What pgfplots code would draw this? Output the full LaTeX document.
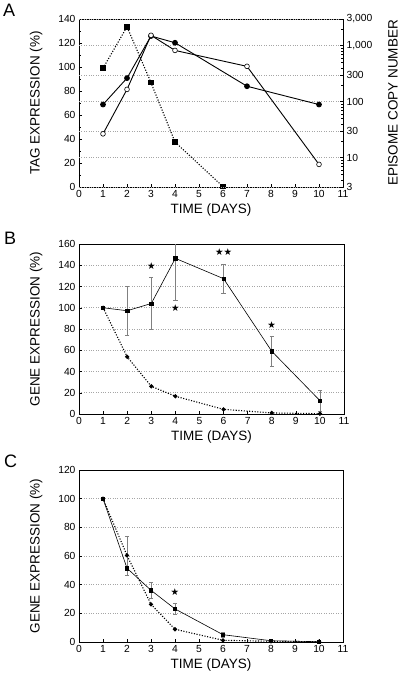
\documentclass[border=0pt]{standalone}
\usepackage{fontspec}
\setmainfont{Liberation Sans}
\newfontfamily\dejavu{DejaVu Sans}
\usepackage{pgfplots}
\pgfplotsset{compat=1.18}
\usetikzlibrary{plotmarks}
\pgfplotsset{
  panel/.style={
    scale only axis,
    xmin=0, xmax=11, xtick={0,...,11},
    tick align=inside,
    tick style={black, line width=0.5pt},
    major tick length=3pt, minor tick length=2pt,
    axis line style={line width=0.6pt},
    ticklabel style={font=\fontsize{10.3}{11}\selectfont},
    label style={font=\fontsize{13.5}{15}\selectfont},
    xlabel={TIME (DAYS)},
    xlabel style={yshift=1pt},
    /pgf/number format/assume math mode=true,
    grid style={dotted, gray!70, line width=0.6pt},
    xtick pos=bottom,
  },
  dotline/.style={black, line width=1.1pt, dash pattern=on 1.1pt off 1.6pt},
  solidline/.style={black, line width=0.9pt},
  ebar/.style={error bars/.cd, y dir=both, y explicit,
    error bar style={gray, line width=0.5pt},
    error mark options={gray, rotate=90, mark size=2.2pt, line width=0.5pt}},
  startext/.style={only marks, mark=text, text mark={\dejavu\fontsize{9.5}{9.5}\selectfont ★}},
}
\begin{document}
\begin{tikzpicture}
\useasboundingbox (0pt,0pt) rectangle (400pt,-678pt);

% ---------------- Panel A ----------------
\begin{axis}[panel, at={(79pt,-187pt)}, anchor=south west,
  width=264pt, height=168pt,
  ymin=0, ymax=140, ytick={0,20,...,140}, minor y tick num=1,
  ytick pos=left,
  ylabel={TAG EXPRESSION (\%)},
  ylabel style={yshift=9pt},
  clip=false]
\addplot[dotline, mark=square*, mark size=2.2pt, mark options={solid}]
  coordinates {(1,99) (2,133.5) (3,87) (4,37.5) (6,0.3)};
\end{axis}
\begin{axis}[panel, at={(79pt,-187pt)}, anchor=south west,
  width=264pt, height=168pt,
  hide x axis,
  axis y line*=right,
  ymode=log, ymin=3, ymax=3000,
  ytick={3,10,30,100,300,1000,3000},
  yticklabels={3,10,30,100,300,{1,000},{3,000}},
  minor ytick={4,5,6,7,8,9,20,40,50,60,70,80,90,200,400,500,600,700,800,900,2000},
  ymajorgrids,
  ylabel={EPISOME COPY NUMBER},
  ylabel style={yshift=-9pt},
  clip=false]
\addplot[solidline, mark=*, mark size=2.4pt]
  coordinates {(1,89) (2,264) (3,1490) (4,1130) (7,189) (10,89)};
\addplot[solidline, mark=*, mark size=2.4pt, mark options={fill=white, line width=0.6pt}]
  coordinates {(1,26.7) (2,166) (3,1535) (4,824) (7,428) (10,7.6)};
\end{axis}
\node[font=\fontsize{18}{20}\selectfont, anchor=north west, inner sep=0pt] at (3pt,-4pt) {A};

% ---------------- Panel B ----------------
\begin{axis}[panel, at={(79pt,-414pt)}, anchor=south west,
  width=265pt, height=170pt,
  ymin=0, ymax=160, ytick={0,20,...,160},
  ytick pos=left,
  ymajorgrids,
  ylabel={GENE EXPRESSION (\%)},
  ylabel style={yshift=9pt}]
\addplot[dotline, mark=*, mark size=1.5pt, mark options={solid}]
  coordinates {(1,100) (2,53.8) (3,26.1) (4,16.7) (6,4.4) (8,1) (10,0.3)};
\addplot[black, line width=0.6pt, mark=square*, mark size=1.7pt, ebar]
  coordinates {(1,100) +- (0,0)
   (2,97.2) +- (0,22.8)
   (3,104) +- (0,24.4)
   (4,146.5) +- (0,39.3)
   (6,127.4) +- (0,14)
   (8,59.1) +- (0,14)
   (10,12.6) +- (0,9.6)};
\addplot[startext] coordinates {(3,139.3) (4,99.4) (8,83.3)};
\addplot[only marks, mark=text, text mark={\dejavu\fontsize{9.5}{9.5}\selectfont ★★}] coordinates {(6,152.5)};
\end{axis}
\node[font=\fontsize{18}{20}\selectfont, anchor=north west, inner sep=0pt] at (4pt,-232pt) {B};

% ---------------- Panel C ----------------
\begin{axis}[panel, at={(79pt,-642pt)}, anchor=south west,
  width=264pt, height=172pt,
  ymin=0, ymax=120, ytick={0,20,...,120},
  ytick pos=left,
  ymajorgrids,
  ylabel={GENE EXPRESSION (\%)},
  ylabel style={yshift=9pt}]
\addplot[dotline, mark=*, mark size=1.5pt, mark options={solid}]
  coordinates {(1,100) (2,60.4) (3,26.3) (4,8.9) (6,1.2) (8,0.5) (10,0.2)};
\addplot[black, line width=0.6pt, mark=square*, mark size=1.7pt,
  error bars/.cd, y dir=both, y explicit,
    error bar style={gray, line width=0.5pt},
    error mark options={gray, rotate=90, mark size=2.2pt, line width=0.5pt}]
  coordinates {(1,100) +- (0,0)
   (2,51.5) += (0,22.4) -= (0,4.6)
   (3,36.1) +- (0,5.4)
   (4,23.1) +- (0,4)
   (6,5.1) +- (0,2)
   (8,0.9) +- (0,0.5)
   (10,0.2) +- (0,0)};
\addplot[startext] coordinates {(4,35)};
\end{axis}
\node[font=\fontsize{18}{20}\selectfont, anchor=north west, inner sep=0pt] at (4pt,-455pt) {C};
\end{tikzpicture}
\end{document}
